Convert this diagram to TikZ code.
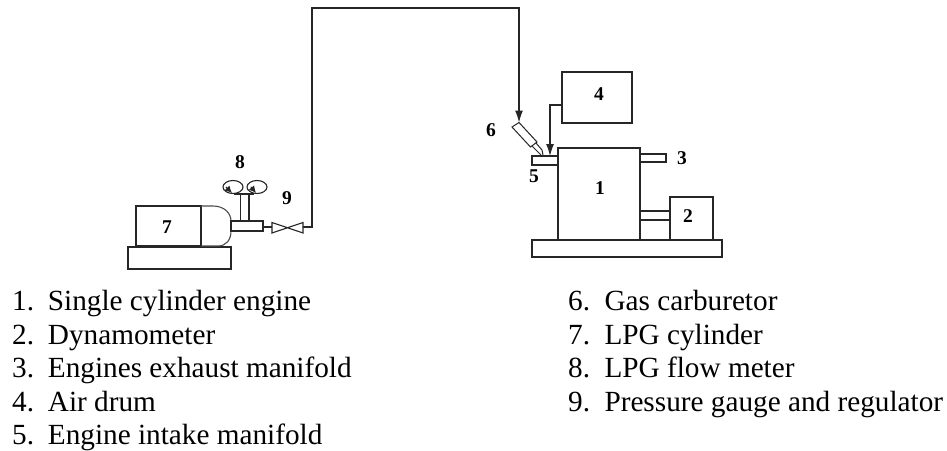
\documentclass[tikz,border=0pt]{standalone}
\usepackage{fontspec}
\setmainfont{Liberation Serif}
\usetikzlibrary{arrows.meta,calc}
\tikzset{
  part/.style={draw=black!85,line width=1.1pt,fill=none},
  pipe/.style={draw=black!85,line width=1.1pt},
  flow/.style={pipe,-{Latex[length=12pt,width=8pt]}},
  tag/.style={font=\bfseries\fontsize{19.5}{19.5}\selectfont,inner sep=0pt},
  item/.style={font=\fontsize{29.25}{29.25}\selectfont,anchor=base west,inner sep=0pt},
}
\begin{document}
\begin{tikzpicture}[x=1pt,y=-1pt]
\useasboundingbox (0,0) rectangle (947,450);
% right engine group
\draw[part] (532,240) rectangle (722,257);
\draw[part] (558,148) rectangle (640,240);
\draw[part] (640,154) rectangle (666,162);
\draw[part] (670,197) rectangle (713,240);
\draw[part] (640,211) rectangle (670,220);
\draw[part] (532,156) rectangle (558,165);
\draw[part] (562,72) rectangle (632,123);
\coordinate (drumout) at (562,105);
\coordinate (intake) at (550,156);
\draw[flow] (drumout) -| (intake);
% carburetor
\draw[part,line width=1pt] (512,127) -- (519,122.5) -- (537,142) -- (530.5,147) -- cycle;
\draw[pipe,line width=1pt] (532,146) -- (541,155) (536,143) -- (542,150) -- (543,155);
% left group
\draw[part] (128,247) rectangle (231,269);
\draw[part] (136,206) rectangle (201,246);
\draw[part,draw=black!70] (201,206) -- (213,206) .. controls (224,206) and (231,213) .. (231,221)
  -- (231,231) .. controls (231,240) and (226,246) .. (218,246) -- (201,246);
\draw[part] (231,221) rectangle (263,231);
\draw[part] (240.3,194) -- (240.3,221) (249,194) -- (249,221) (234,194) -- (254,194);
% gauges
\draw[part] (233,187) ellipse (10 and 6.5);
\draw[part] (257,187) ellipse (10 and 6.5);
\draw[pipe,-{Latex[length=7pt,width=7pt]}] (226,187) -- (232,193);
\draw[pipe,-{Latex[length=7pt,width=7pt]}] (251,187) -- (256,193);
% valve
\draw[part] (272,222.5) -- (272,233) -- (303,222.5) -- (303,233) -- cycle;
% main line
\coordinate (rout) at (263,227);
\coordinate (vin) at (272,227);
\coordinate (vout) at (303,227);
\coordinate (carb) at (519,122.5);
\draw[pipe] (rout) -- (vin);
\draw[flow] (vout) -- (312,227) -- (312,8) -- (519,8) -- (carb);
% tags
\node[tag] (t1) at (600,188) {1};
\node[tag] (t2) at (688,216) {2};
\node[tag] (t3) at (682,158) {3};
\node[tag] (t4) at (599,94) {4};
\node[tag] (t5) at (534,176) {5};
\node[tag] (t6) at (491,130) {6};
\node[tag] (t7) at (167,227) {7};
\node[tag] (t8) at (240,162) {8};
\node[tag] (t9) at (287,198) {9};
% legend
\node[item] (l1) at (12,310.7) {1.};
\node[item] (l1t) at (47.7,310.7) {Single cylinder engine};
\node[item] (l2) at (12,344) {2.};
\node[item] (l2t) at (47.7,344) {Dynamometer};
\node[item] (l3) at (12,377.3) {3.};
\node[item] (l3t) at (47.7,377.3) {Engines exhaust manifold};
\node[item] (l4) at (12,411.3) {4.};
\node[item] (l4t) at (47.7,411.3) {Air drum};
\node[item] (l5) at (12,444.7) {5.};
\node[item] (l5t) at (47.7,444.7) {Engine intake manifold};
\node[item] (r6) at (568,310.7) {6.};
\node[item] (r6t) at (604.3,310.7) {Gas carburetor};
\node[item] (r7) at (568,344) {7.};
\node[item] (r7t) at (604.3,344) {LPG cylinder};
\node[item] (r8) at (568,377.3) {8.};
\node[item] (r8t) at (604.3,377.3) {LPG flow meter};
\node[item] (r9) at (568,411.3) {9.};
\node[item] (r9t) at (604.3,411.3) {Pressure gauge and regulator};
\end{tikzpicture}
\end{document}
